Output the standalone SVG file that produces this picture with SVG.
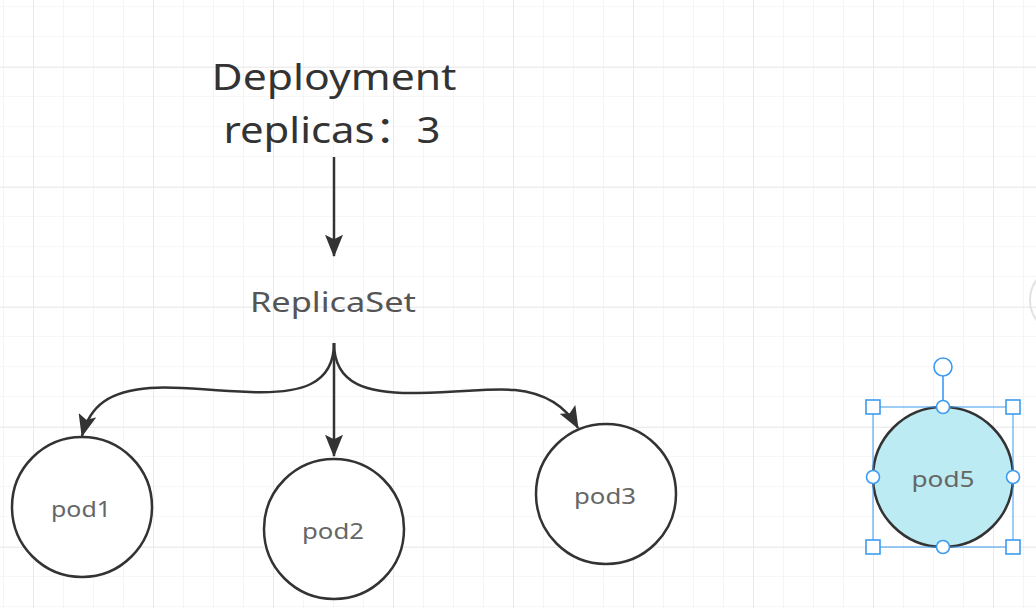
<svg xmlns="http://www.w3.org/2000/svg" width="1036" height="608" viewBox="0 0 1036 608">
<defs>
<pattern id="minor" x="3" y="6" width="30" height="30" patternUnits="userSpaceOnUse">
<path d="M0,0 H30 M0,0 V30" fill="none" stroke="#efefef" stroke-width="1.2"/>
</pattern>
<pattern id="major" x="33" y="67" width="120" height="120" patternUnits="userSpaceOnUse">
<path d="M0,0 H120 M0,0 V120" fill="none" stroke="#e8e8e8" stroke-width="1.6"/>
</pattern>
<marker id="arr" viewBox="0 0 20 16" refX="19" refY="8" markerWidth="23" markerHeight="18" markerUnits="userSpaceOnUse" orient="auto">
<path d="M0,0 L20,8 L0,16 L4,8 Z" fill="#333"/>
</marker>
<style>
.t{font-family:"Noto Sans","Open Sans","Liberation Sans","Noto Sans CJK SC",sans-serif;text-anchor:middle}
.cjk{font-family:"Noto Sans CJK SC",sans-serif}
.pod{fill:#fff;stroke:#333;stroke-width:2.5}
.pl{font-size:22px;fill:#666}
.c{fill:none;stroke:#333;stroke-width:2.5}
.sel{fill:#fff;stroke:#3d9bf0;stroke-width:1.6}
</style>
</defs>
<rect width="1036" height="608" fill="#fff"/>
<rect width="1036" height="608" fill="url(#minor)"/>
<rect width="1036" height="608" fill="url(#major)"/>
<circle cx="1064" cy="300" r="34" fill="none" stroke="#e2e2e2" stroke-width="2"/>

<g id="connectors">
<path class="c" d="M334,157 V256" marker-end="url(#arr)"/>
<path class="c" d="M334,343 V456" marker-end="url(#arr)"/>
<path class="c" d="M334,343 C334,385 300,394 250,392 C200,390 180,386 150,388 C110,391 90,405 82,436" marker-end="url(#arr)"/>
<path class="c" d="M334,343 C334,385 368,394 418,393 C468,392 488,388 515,390 C545,393 565,405 578,428" marker-end="url(#arr)"/>
</g>

<g id="deployment">
<text class="t" x="334" y="90" font-size="37" fill="#333" textLength="245" lengthAdjust="spacingAndGlyphs">Deployment</text>
<text class="t" x="332" y="143" font-size="37" fill="#333" textLength="217" lengthAdjust="spacingAndGlyphs">replicas<tspan class="cjk">：</tspan>3</text>
</g>

<g id="replicaset">
<text class="t" x="333" y="312" font-size="27" fill="#555" textLength="166" lengthAdjust="spacingAndGlyphs">ReplicaSet</text>
</g>

<g id="pod1">
<circle class="pod" cx="82" cy="507" r="70"/>
<text class="t pl" x="81" y="517" textLength="60" lengthAdjust="spacingAndGlyphs">pod1</text>
</g>
<g id="pod2">
<circle class="pod" cx="334" cy="529" r="70"/>
<text class="t pl" x="333" y="539" textLength="62" lengthAdjust="spacingAndGlyphs">pod2</text>
</g>
<g id="pod3">
<circle class="pod" cx="606" cy="494" r="70"/>
<text class="t pl" x="605" y="504" textLength="62" lengthAdjust="spacingAndGlyphs">pod3</text>
</g>
<g id="pod5">
<circle cx="943" cy="477" r="70" fill="#bdebf3" stroke="#333" stroke-width="2.5"/>
<text class="t pl" x="943" y="487" textLength="63" lengthAdjust="spacingAndGlyphs">pod5</text>
<rect x="873" y="407" width="140" height="140" fill="none" stroke="#3d9bf0" stroke-width="1"/>
<line x1="943" y1="376" x2="943" y2="407" stroke="#3d9bf0" stroke-width="1.6"/>
<circle class="sel" cx="943" cy="367" r="9"/>
<rect class="sel" x="866" y="400" width="14" height="14"/>
<rect class="sel" x="1006" y="400" width="14" height="14"/>
<rect class="sel" x="866" y="540" width="14" height="14"/>
<rect class="sel" x="1006" y="540" width="14" height="14"/>
<circle class="sel" cx="943" cy="407" r="6.5"/>
<circle class="sel" cx="943" cy="547" r="6.5"/>
<circle class="sel" cx="873" cy="477" r="6.5"/>
<circle class="sel" cx="1013" cy="477" r="6.5"/>
</g>
</svg>
